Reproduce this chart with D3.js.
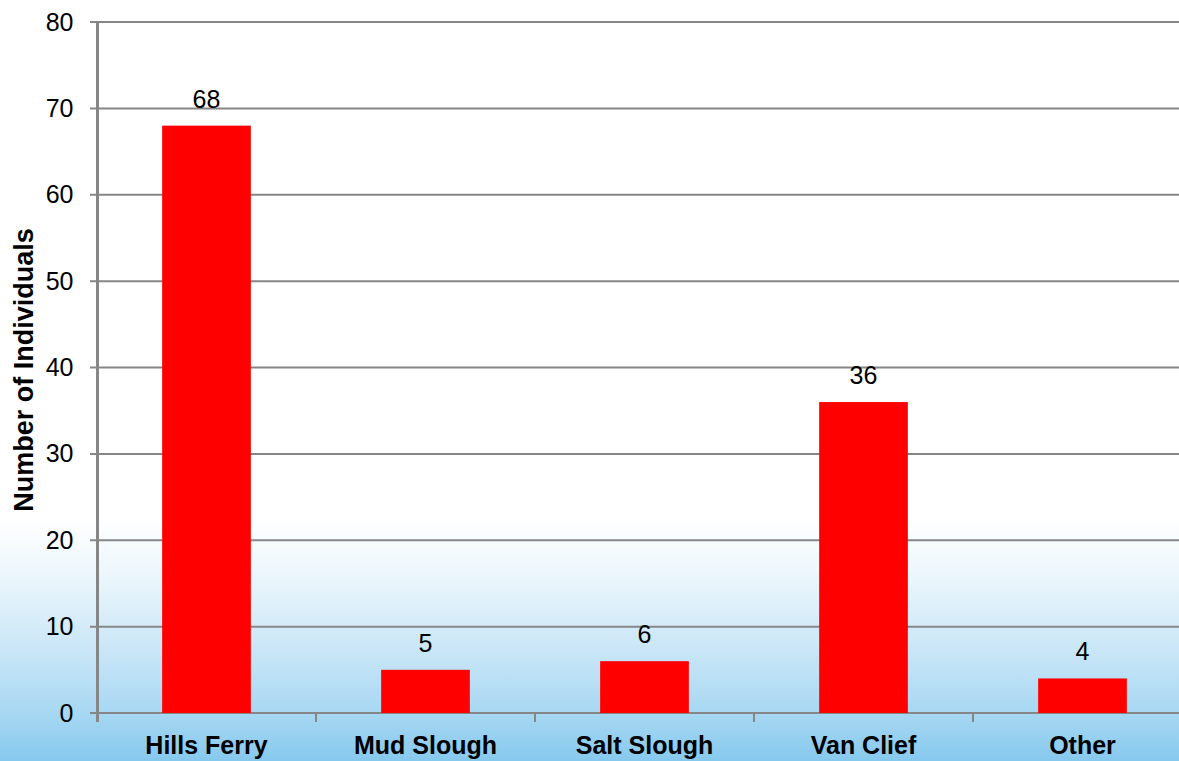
<!DOCTYPE html>
<html><head><meta charset="utf-8">
<script src="https://cdn.jsdelivr.net/npm/d3@7"></script>
<style>body{margin:0;background:#fff;}svg{display:block;}</style>
</head><body>
<svg id="c" width="1179" height="761"></svg>
<script>
const categories = ["Hills Ferry","Mud Slough","Salt Slough","Van Clief","Other"];
const values = [68, 5, 6, 36, 4];
const yTicks = [0,10,20,30,40,50,60,70,80];
const yTitle = "Number of Individuals";

const W=1179,H=761;
const FONT="Liberation Sans, Arial, sans-serif";
const svg=d3.select("#c");
const defs=svg.append("defs");
const g=defs.append("linearGradient").attr("id","bg").attr("x1",0).attr("y1",0).attr("x2",0).attr("y2",1);
[[0,"#ffffff"],[0.68,"#ffffff"],[0.75,"#edf7fc"],[0.85,"#cbe7f7"],[0.94,"#a6d7f2"],[1,"#86c9ee"]].forEach(s=>g.append("stop").attr("offset",s[0]).attr("stop-color",s[1]));
svg.append("rect").attr("width",W).attr("height",H).attr("fill","url(#bg)");

const x=d3.scaleBand().domain(categories).range([97,97+219*5]).padding(0);
const y=d3.scaleLinear().domain([0,80]).range([713,22]);
const barW=x.bandwidth()*0.405;

// gridlines
svg.append("g").selectAll("line").data(yTicks).join("line")
  .attr("x1",90).attr("x2",W).attr("y1",d=>y(d)).attr("y2",d=>y(d))
  .attr("stroke","#868686").attr("stroke-width",2);

// bars
svg.append("g").selectAll("rect").data(values).join("rect")
  .attr("x",(d,i)=>x(categories[i])+x.bandwidth()/2-barW/2)
  .attr("width",barW)
  .attr("y",d=>y(d)).attr("height",d=>y(0)-y(d))
  .attr("fill","#ff0000");

// y axis
const ya=svg.append("g").attr("transform","translate(97.5,0)")
  .call(d3.axisLeft(y).tickValues(yTicks).tickSize(0).tickPadding(24));
ya.select(".domain").attr("stroke","#868686").attr("stroke-width",3).attr("d",`M0,${y(80)-1}V${y(0)+9}`);
ya.selectAll("text").attr("font-family",FONT).attr("font-size",25).attr("fill","#000");

// x axis
const xa=svg.append("g").attr("transform",`translate(0,${y(0)})`)
  .call(d3.axisBottom(x).tickSize(0).tickPadding(23));
xa.select(".domain").remove();
xa.selectAll("text").attr("font-family",FONT).attr("font-size",25).attr("font-weight","bold").attr("fill","#000");
const bounds=categories.map(c=>x(c)).slice(1);
svg.append("g").selectAll("line").data(bounds).join("line")
  .attr("x1",d=>d).attr("x2",d=>d).attr("y1",y(0)).attr("y2",y(0)+9)
  .attr("stroke","#868686").attr("stroke-width",2);

// value labels
svg.append("g").selectAll("text").data(values).join("text")
  .attr("x",(d,i)=>x(categories[i])+x.bandwidth()/2)
  .attr("y",d=>y(d)-18)
  .attr("text-anchor","middle")
  .attr("font-family",FONT).attr("font-size",25)
  .text(d=>d);

// y title
svg.append("text").attr("transform","translate(33,370) rotate(-90)")
  .attr("text-anchor","middle")
  .attr("font-family",FONT).attr("font-size",27).attr("font-weight","bold")
  .text(yTitle);
</script>
</body></html>
